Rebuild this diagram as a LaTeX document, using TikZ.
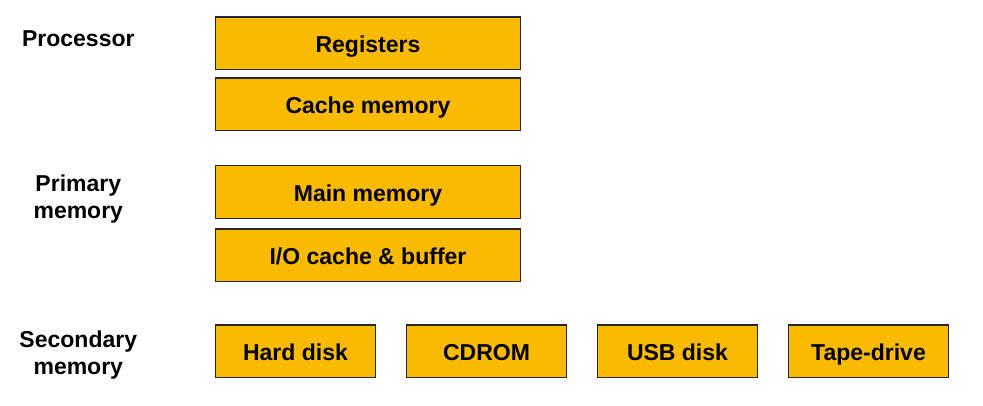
\documentclass[tikz,border=0pt]{standalone}
\usepackage{fontspec}
\setmainfont{Liberation Sans}
\begin{document}
\begin{tikzpicture}[x=1pt,y=-1pt,
  membox/.style={draw=black!85,line width=1.1pt,fill=boxgold,inner sep=0pt,
    text height=19pt,text depth=0pt,font=\fontsize{23}{26.5}\selectfont\bfseries},
  wide/.style={membox,minimum width=305pt,minimum height=52.5pt},
  small/.style={membox,minimum width=160pt,minimum height=52.5pt},
  lbl/.style={align=center,inner sep=0pt,font=\fontsize{23}{27}\selectfont\bfseries}]
\definecolor{boxgold}{HTML}{F9BA00}
\useasboundingbox[fill=white] (0,0) rectangle (983,406);
\node[wide] (reg) at (368,43.25) {Registers};
\node[wide] (cache) at (368,104.25) {Cache memory};
\node[wide] (main) at (368,192) {Main memory};
\node[wide] (io) at (368,255.25) {I/O cache \& buffer};
\node[small] (hd) at (295.5,351.25) {Hard disk};
\node[small] (cd) at (486.5,351.25) {CDROM};
\node[small] (usb) at (677.5,351.25) {USB disk};
\node[small] (tape) at (868.5,351.25) {Tape-drive};
\node[lbl,anchor=base] (proc) at (78.3,46.5) {Processor};
\node[lbl] (prim) at (78.3,199) {Primary\\memory};
\node[lbl] (sec) at (78.3,355.2) {Secondary\\memory};
\end{tikzpicture}
\end{document}
